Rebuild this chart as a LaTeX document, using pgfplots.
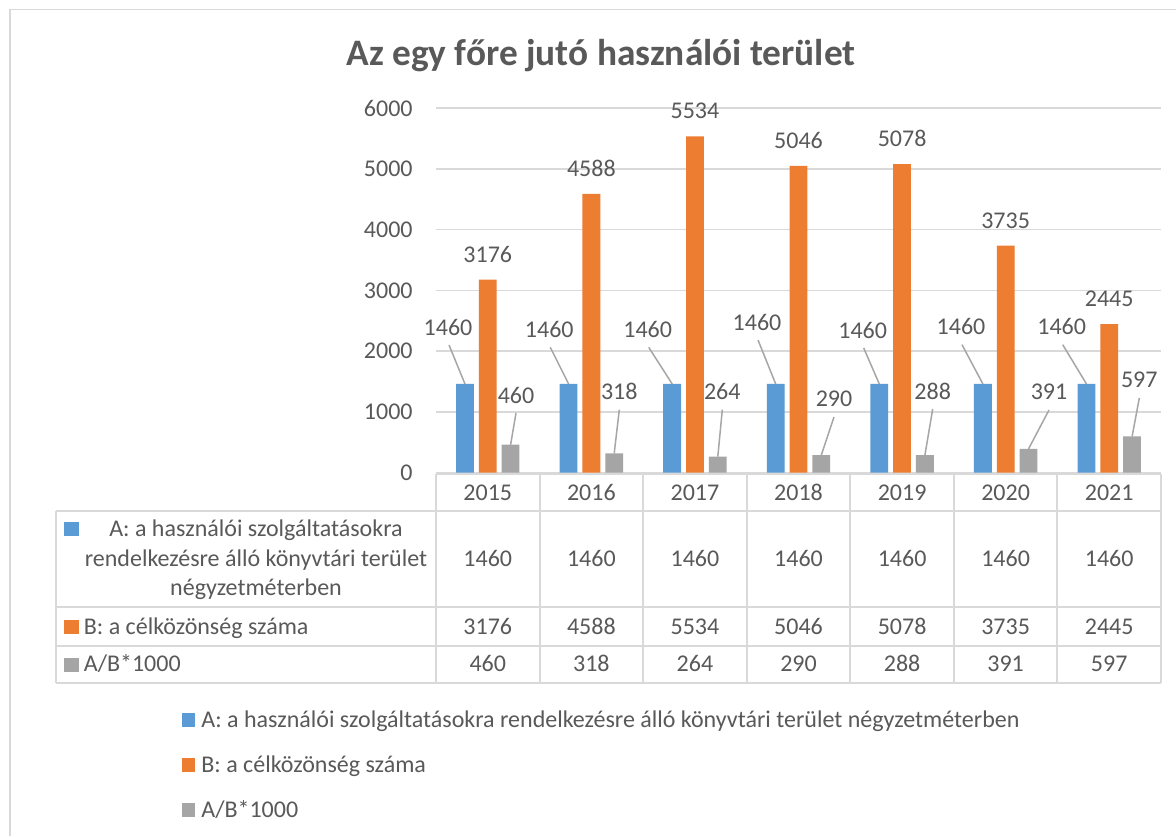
\documentclass[border=0pt]{standalone}
\usepackage{pgfplots}
\pgfplotsset{compat=1.18}
\usepackage{fontspec}
\setmainfont{Carlito}
\definecolor{cA}{HTML}{5B9BD5}
\definecolor{cB}{HTML}{ED7D31}
\definecolor{cC}{HTML}{A5A5A5}
\definecolor{txt}{HTML}{595959}
\definecolor{grd}{HTML}{D9D9D9}
\definecolor{lead}{HTML}{A6A6A6}
\newcommand{\bodyfont}{\fontsize{12}{14.75}\selectfont}
\begin{document}
\bodyfont
\begin{tikzpicture}[x=0.5pt,y=0.5pt,font=\bodyfont,every node/.style={text=txt}]
\useasboundingbox (0,0) rectangle (1176,836);
\fill[white] (0,0) rectangle (1176,836);
\draw[grd,line width=0.8pt] (10,0) -- (10,826.5) -- (1176,826.5);
\node[anchor=base,font=\fontsize{18.67}{22}\selectfont\bfseries] at (601,770.3) {Az egy főre jutó használói terület};
\begin{axis}[at={(218pt,181.65pt)},anchor=south west,scale only axis,
  width=362.5pt,height=182.35pt,
  xmin=-0.5,xmax=6.5,ymin=0,ymax=6000,
  ytick={0,1000,2000,3000,4000,5000,6000},xtick=\empty,
  ymajorgrids,grid style={grd,line width=0.8pt},
  axis line style={draw=none},major tick length=0pt,
  yticklabel style={font=\bodyfont,text=txt,anchor=east,inner sep=0pt,xshift=-11.5pt},
  /pgf/number format/assume math mode=true,
  /pgf/number format/set thousands separator={},
  ybar=2.5pt,bar width=8.9pt,clip=false]
\addplot[fill=cA,draw=none] coordinates {(0,1460) (1,1460) (2,1460) (3,1460) (4,1460) (5,1460) (6,1460)};
\addplot[fill=cB,draw=none,nodes near coords,
  every node near coord/.append style={anchor=base,inner sep=0pt,yshift=8.75pt,text=txt,font=\bodyfont}]
  coordinates {(0,3176) (1,4588) (2,5534) (3,5046) (4,5078) (5,3735) (6,2445)};
\addplot[fill=cC,draw=none] coordinates {(0,460) (1,318) (2,264) (3,290) (4,288) (5,391) (6,597)};
\end{axis}
% data labels with leader lines (pixel coordinates, y from top)
\foreach \lx/\ly/\bx/\v in {448/327/465.0/1460, 549.3/329.3/568.6/1460, 647.7/329.3/672.2/1460, 757/322/775.7/1460, 862.7/330/879.3/1460, 961/326.7/982.9/1460, 1061.7/326.7/1086.5/1460}{
  \draw[lead,line width=0.75pt] ({\lx+1},{836-\ly-18}) -- (\bx,{836-(472.7-\v*0.06075)});
  \node[inner sep=0pt] at (\lx,{836-\ly}) {\v};
}
\foreach \lx/\ly/\bx/\v in {516/395/510.6/460, 619.3/391.7/614.2/318, 722.3/391.7/717.8/264, 834/399/821.3/290, 932.7/391/924.9/288, 1049/392/1028.5/391, 1139.3/380/1132.1/597}{
  \draw[lead,line width=0.75pt] (\lx,{836-\ly-18}) -- (\bx,{836-(472.7-\v*0.06075)});
  \node[inner sep=0pt] at (\lx,{836-\ly}) {\v};
}
% data table
\begin{scope}[grd,line width=1pt]
\draw (436,{836-474}) -- (1161,{836-474});
\foreach \py in {510.7,607.3,645.7,683.3}{\draw (55.5,{836-\py}) -- (1161,{836-\py});}
\draw (55.5,{836-510.7}) -- (55.5,{836-683.3});
\foreach \k in {0,...,7}{\draw ({436+103.57*\k},{836-474}) -- ({436+103.57*\k},{836-683.3});}
\end{scope}
\foreach \i/\yr/\a/\b/\c in {0/2015/1460/3176/460, 1/2016/1460/4588/318, 2/2017/1460/5534/264, 3/2018/1460/5046/290, 4/2019/1460/5078/288, 5/2020/1460/3735/391, 6/2021/1460/2445/597}{
  \node[anchor=base,inner sep=0pt] at ({436+103.57*(\i+0.5)},{836-500}) {\yr};
  \node[anchor=base,inner sep=0pt] at ({436+103.57*(\i+0.5)},{836-566.7}) {\a};
  \node[anchor=base,inner sep=0pt] at ({436+103.57*(\i+0.5)},{836-634}) {\b};
  \node[anchor=base,inner sep=0pt] at ({436+103.57*(\i+0.5)},{836-671.7}) {\c};
}
\fill[cA] (64.4,{836-535.7}) rectangle (78.5,{836-521.7});
\node[anchor=base,inner sep=0pt] at (256,{836-536.5}) {A: a használói szolgáltatásokra};
\node[anchor=base,inner sep=0pt] at (256,{836-566}) {rendelkezésre álló könyvtári terület};
\node[anchor=base,inner sep=0pt] at (256,{836-595.5}) {négyzetméterben};
\fill[cB] (64.4,{836-633.5}) rectangle (78.5,{836-619.5});
\node[anchor=base west,inner sep=0pt] at (83.5,{836-634}) {B: a célközönség száma};
\fill[cC] (64.4,{836-671.7}) rectangle (78.5,{836-657.7});
\node[anchor=base west,inner sep=0pt] at (83.5,{836-671.7}) {A/B*1000};
% legend
\fill[cA] (182.3,{836-726.7}) rectangle (195,{836-712.7});
\node[anchor=base west,inner sep=0pt] at (201,{836-727}) {A: a használói szolgáltatásokra rendelkezésre álló könyvtári terület négyzetméterben};
\fill[cB] (182.3,{836-772}) rectangle (195,{836-758});
\node[anchor=base west,inner sep=0pt] at (201,{836-772}) {B: a célközönség száma};
\fill[cC] (182.3,{836-817}) rectangle (195,{836-803});
\node[anchor=base west,inner sep=0pt] at (201,{836-817}) {A/B*1000};
\end{tikzpicture}
\end{document}
